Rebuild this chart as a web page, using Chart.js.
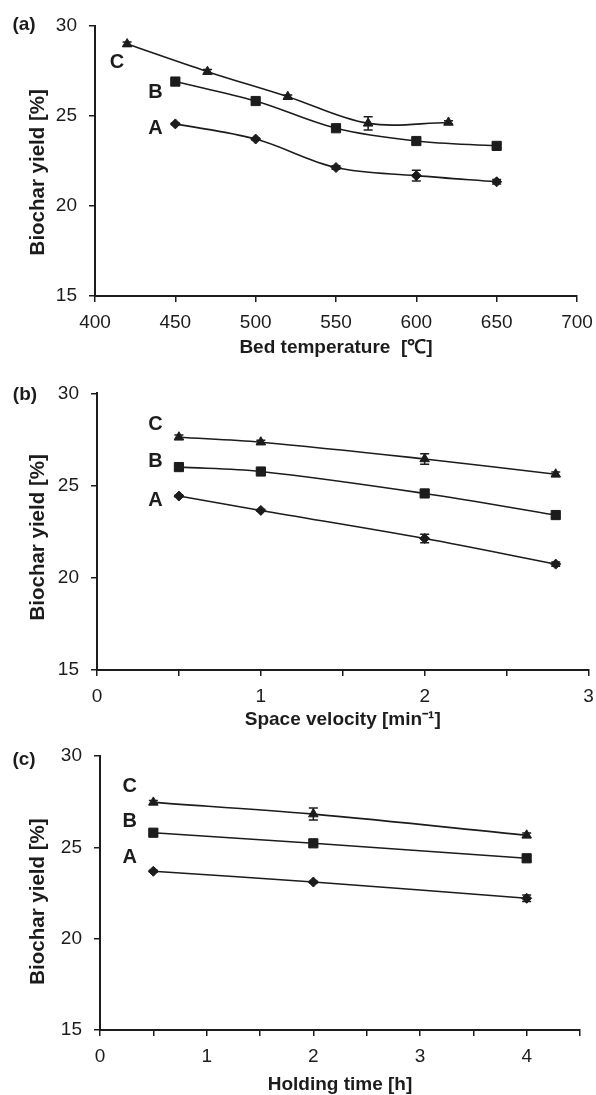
<!DOCTYPE html>
<html>
<head>
<meta charset="utf-8">
<script src="https://cdn.jsdelivr.net/npm/chart.js@4/dist/chart.umd.min.js"></script>
<style>
  body { margin: 0; background: #fff; }
  #wrap { position: relative; width: 596px; height: 1095px; }
  canvas { position: absolute; left: 0; }
</style>
</head>
<body>
<div id="wrap">
  <canvas id="ca" width="596" height="362" style="top:0"></canvas>
  <canvas id="cb" width="596" height="370" style="top:362px"></canvas>
  <canvas id="cc" width="596" height="363" style="top:732px"></canvas>
</div>
<script>
const INK = "#1c1c1c";
const FONT = "'Liberation Sans', Arial, Helvetica, sans-serif";

/* (a) bed temperature */
const tempAB = [450, 500, 550, 600, 650];
const tempC = [420, 470, 520, 570, 620];
const tempYieldA = [24.55, 23.71, 22.13, 21.68, 21.34];
const tempYieldB = [26.90, 25.82, 24.31, 23.60, 23.33];
const tempYieldC = [28.98, 27.45, 26.06, 24.58, 24.63];
const tempErrA = [0.05, 0.05, 0.1, 0.3, 0.12];
const tempErrB = [0.1, 0.05, 0.1, 0.15, 0.1];
const tempErrC = [0.12, 0.12, 0.1, 0.37, 0.1];

/* (b) space velocity */
const svX = [0.5, 1, 2, 2.8];
const svYieldA = [24.43, 23.65, 22.13, 20.74];
const svYieldB = [26.00, 25.76, 24.57, 23.40];
const svYieldC = [27.62, 27.35, 26.44, 25.61];
const svErrA = [0.05, 0.05, 0.23, 0.12];
const svErrB = [0.1, 0.1, 0.1, 0.1];
const svErrC = [0.12, 0.1, 0.28, 0.12];

/* (c) holding time */
const htX = [0.5, 2, 4];
const htYieldA = [23.69, 23.10, 22.21];
const htYieldB = [25.80, 25.22, 24.40];
const htYieldC = [27.46, 26.82, 25.66];
const htErrA = [0.05, 0.05, 0.18];
const htErrB = [0.1, 0.1, 0.15];
const htErrC = [0.1, 0.33, 0.12];

const yTicks = { min: 15, max: 30, step: 5 };
const yTitle = "Biochar yield [%]";

// series name labels, in data units
const tempLabels = [["C", 413.7, 27.98], ["B", 437.7, 26.27], ["A", 437.7, 24.27]];
const svLabels = [["C", 0.357, 28.33], ["B", 0.357, 26.33], ["A", 0.357, 24.2]];
const htLabels = [["C", 0.278, 28.34], ["B", 0.278, 26.43], ["A", 0.278, 24.47]];

function series(xs, ys, errs, style, r){
  return {
    data: xs.map((x, i) => ({ x: x, y: ys[i] })),
    err: errs,
    borderColor: INK,
    borderWidth: 1.6,
    tension: 0.35,
    pointStyle: style,
    pointRadius: r,
    pointBackgroundColor: INK,
    pointBorderColor: INK,
    pointBorderWidth: 1
  };
}

function extras(labels, panel){
  return {
    id: "extras",
    afterDatasetsDraw(chart){
      const ctx = chart.ctx, x = chart.scales.x, y = chart.scales.y;
      ctx.save();
      ctx.strokeStyle = INK;
      ctx.lineWidth = 1.5;
      chart.data.datasets.forEach(ds => {
        ds.data.forEach((p, i) => {
          const e = ds.err[i];
          if (!e) return;
          const px = x.getPixelForValue(p.x);
          const t = y.getPixelForValue(p.y + e), b = y.getPixelForValue(p.y - e);
          ctx.beginPath();
          ctx.moveTo(px, t); ctx.lineTo(px, b);
          ctx.moveTo(px - 4.5, t); ctx.lineTo(px + 4.5, t);
          ctx.moveTo(px - 4.5, b); ctx.lineTo(px + 4.5, b);
          ctx.stroke();
        });
      });
      ctx.fillStyle = INK;
      ctx.textAlign = "center";
      ctx.textBaseline = "middle";
      ctx.font = "bold 20px " + FONT;
      labels.forEach(l => ctx.fillText(l[0], x.getPixelForValue(l[1]), y.getPixelForValue(l[2])));
      ctx.font = "bold 19px " + FONT;
      ctx.fillText(panel[0], panel[1], panel[2]);
      ctx.restore();
    }
  };
}

function makeChart(id, cfg){
  const el = document.getElementById(id);
  const H = el.height;
  const titleFont = { family: FONT, size: 19, weight: "bold", lineHeight: 1 };
  return new Chart(el, {
    type: "line",
    data: { datasets: cfg.datasets },
    plugins: [extras(cfg.labels, cfg.panel)],
    options: {
      responsive: false,
      animation: false,
      events: [],
      layout: { padding: { top: cfg.top, right: 596 - cfg.right, bottom: 0, left: 0 } },
      plugins: { legend: { display: false }, tooltip: { enabled: false } },
      scales: {
        x: {
          type: "linear",
          min: cfg.xMin, max: cfg.xMax,
          ticks: {
            stepSize: cfg.xStep, autoSkip: false, maxRotation: 0, padding: 9,
            color: INK, font: { family: FONT, size: 19 },
            callback: v => (cfg.intOnly && v % 1 !== 0) ? "" : String(v)
          },
          grid: { drawOnChartArea: false, tickLength: 6, color: INK, lineWidth: 1.5 },
          border: { color: INK, width: 2 },
          title: { display: true, text: cfg.xTitle, color: INK, font: titleFont, padding: { top: 0, bottom: cfg.xTitlePad } },
          afterFit(s){ s.height = H - cfg.bottom; s.paddingLeft = 0; s.paddingRight = 0; }
        },
        y: {
          min: yTicks.min, max: yTicks.max,
          ticks: { stepSize: yTicks.step, padding: 12, color: INK, font: { family: FONT, size: 19 } },
          grid: { drawOnChartArea: false, tickLength: 6, color: INK, lineWidth: 1.5 },
          border: { color: INK, width: 2 },
          // trailing spaces nudge the title down a little, like the original
          title: { display: true, text: yTitle + "\u00A0".repeat(cfg.yShift), color: INK,
                   font: { family: FONT, size: 20.5, weight: "bold", lineHeight: 1 }, padding: { top: 28, bottom: 0 } },
          afterFit(s){ s.width = cfg.left; s.paddingTop = 0; s.paddingBottom = 0; }
        }
      }
    }
  });
}

makeChart("ca", {
  datasets: [
    series(tempAB, tempYieldA, tempErrA, "rectRot", 5),
    series(tempAB, tempYieldB, tempErrB, "rect", 6.5),
    series(tempC, tempYieldC, tempErrC, "triangle", 5.5)
  ],
  labels: tempLabels, panel: ["(a)", 24, 25],
  left: 95, right: 577, top: 25.7, bottom: 296,
  xMin: 400, xMax: 700, xStep: 50, intOnly: false, yShift: 4,
  xTitle: "Bed temperature  [\u2103]", xTitlePad: 4.5
});

makeChart("cb", {
  datasets: [
    series(svX, svYieldA, svErrA, "rectRot", 5),
    series(svX, svYieldB, svErrB, "rect", 6.5),
    series(svX, svYieldC, svErrC, "triangle", 5.5)
  ],
  labels: svLabels, panel: ["(b)", 25, 33],
  left: 97, right: 589, top: 31.3, bottom: 308,
  xMin: 0, xMax: 3, xStep: 0.5, intOnly: true, yShift: 2,
  xTitle: "Space velocity [min\u207B\u00B9]", xTitlePad: 2.5
});

makeChart("cc", {
  datasets: [
    series(htX, htYieldA, htErrA, "rectRot", 5),
    series(htX, htYieldB, htErrB, "rect", 6.5),
    series(htX, htYieldC, htErrC, "triangle", 5.5)
  ],
  labels: htLabels, panel: ["(c)", 24, 28],
  left: 100, right: 580, top: 24, bottom: 298,
  xMin: 0, xMax: 4.5, xStep: 0.5, intOnly: true, yShift: 3,
  xTitle: "Holding time [h]", xTitlePad: 0.5
});
</script>
</body>
</html>
